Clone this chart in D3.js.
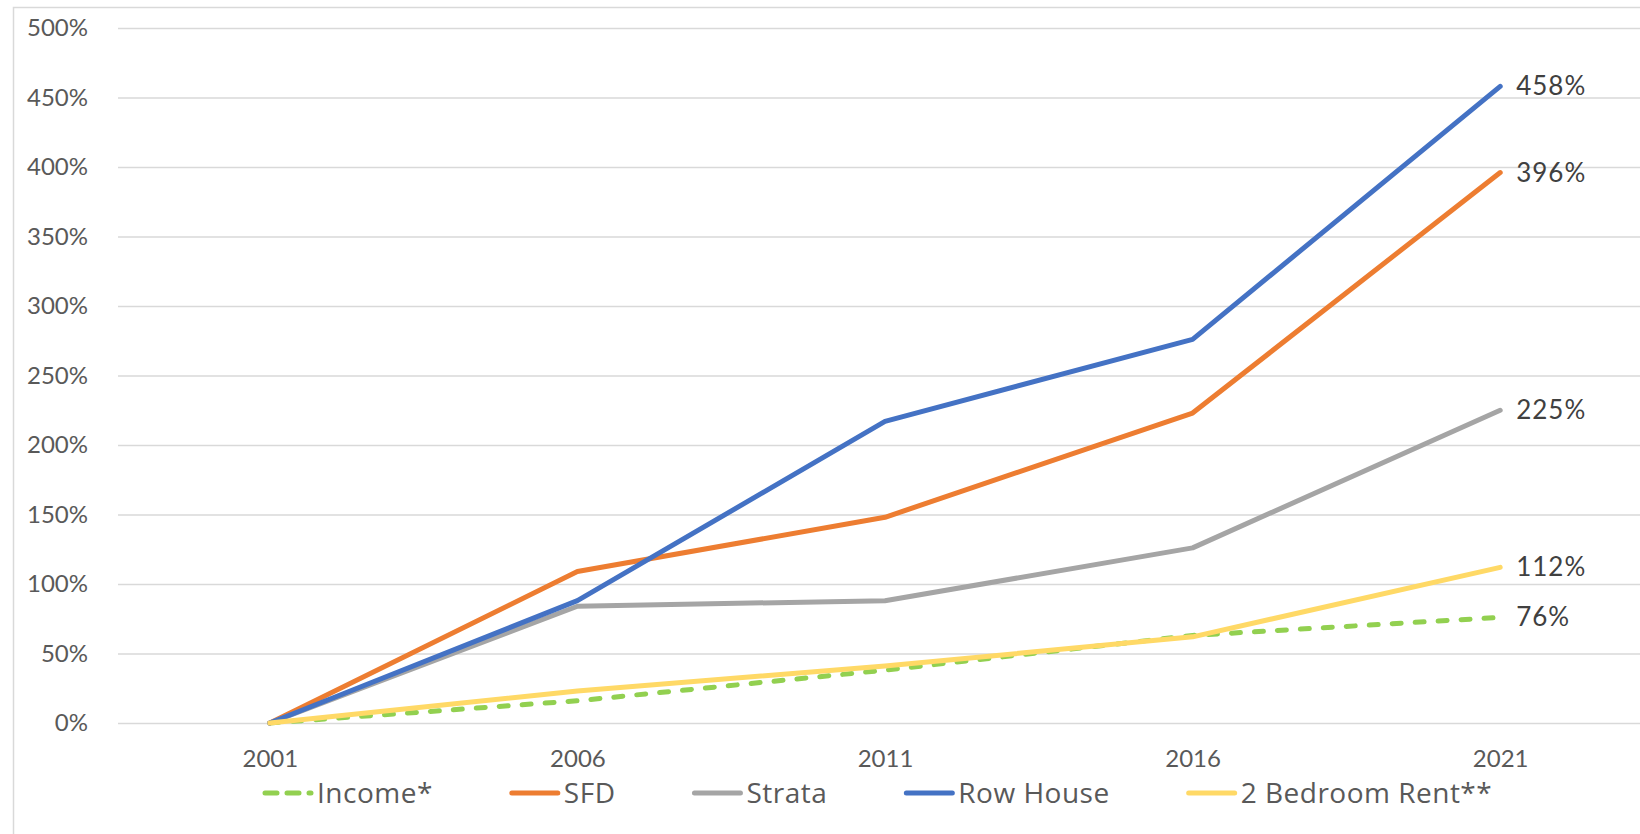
<!DOCTYPE html>
<html>
<head>
<meta charset="utf-8">
<script src="https://cdn.jsdelivr.net/npm/d3@7"></script>
<style>
  body { margin: 0; background: #fff; }
  svg { display: block; font-family: Lato, "Open Sans", sans-serif; }
</style>
</head>
<body>
<svg id="chart" width="1640" height="834"></svg>
<script>
const years = ['2001', '2006', '2011', '2016', '2021'];
const yTicks = [0, 50, 100, 150, 200, 250, 300, 350, 400, 450, 500];

// % change since 2001
const income = [0, 16, 38, 63, 76];
const sfd = [0, 109, 148, 223, 396];
const strata = [0, 84, 88, 126, 225];
const rowHouse = [0, 88, 217, 276, 458];
const rent = [0, 23, 41, 62, 112];

const seriesNames = ['Income*', 'SFD', 'Strata', 'Row House', '2 Bedroom Rent**'];
const seriesValues = [income, sfd, strata, rowHouse, rent];
const seriesColors = ['#92D050', '#ED7D31', '#A5A5A5', '#4472C4', '#FFD966'];

const SVG_WIDTH = 1640;
const margin = { top: 28, bottom: 723, left: 118 };

const svg = d3.select('#chart');

// chart frame
svg.append('rect')
  .attr('x', 13.5).attr('y', 7.5)
  .attr('width', SVG_WIDTH).attr('height', 900)
  .attr('fill', 'none')
  .attr('stroke', '#d9d9d9')
  .attr('stroke-width', 1.5);

const x = d3.scalePoint()
  .domain(years)
  .range([116, 1654])
  .padding(0.5);

const y = d3.scaleLinear()
  .domain([0, 500])
  .range([margin.bottom, margin.top]);

// gridlines
svg.append('g')
  .attr('transform', `translate(${margin.left},0)`)
  .call(d3.axisRight(y).tickValues(yTicks).tickSize(SVG_WIDTH - margin.left).tickFormat(''))
  .call(g => g.select('.domain').remove())
  .call(g => g.selectAll('line').attr('stroke', '#d9d9d9').attr('stroke-width', 1.5));

// y labels
svg.append('g')
  .attr('transform', `translate(${margin.left},0)`)
  .call(d3.axisLeft(y).tickValues(yTicks).tickSize(0).tickPadding(30).tickFormat(d => d + '%'))
  .call(g => g.select('.domain').remove())
  .call(g => g.selectAll('text')
    .attr('fill', '#595959')
    .style('font-size', '24px')
    .style('font-family', 'Lato, sans-serif'));

// x labels
svg.append('g')
  .attr('transform', `translate(0,${margin.bottom})`)
  .call(d3.axisBottom(x).tickSize(0).tickPadding(27))
  .call(g => g.select('.domain').remove())
  .call(g => g.selectAll('text')
    .attr('fill', '#595959')
    .style('font-size', '24px')
    .style('font-family', 'Lato, sans-serif'));

const line = d3.line()
  .x((d, i) => x(years[i]))
  .y(d => y(d));

seriesValues.forEach((vals, i) => {
  svg.append('path')
    .datum(vals)
    .attr('fill', 'none')
    .attr('stroke', seriesColors[i])
    .attr('stroke-width', 5)
    .attr('stroke-linejoin', 'round')
    .attr('stroke-linecap', 'round')
    .attr('stroke-dasharray', i === 0 ? '9,14' : null)
    .attr('d', line);
});

// end labels
seriesValues.forEach(vals => {
  const last = vals[vals.length - 1];
  svg.append('text')
    .attr('x', x(years[years.length - 1]) + 16)
    .attr('y', y(last))
    .attr('dy', '0.35em')
    .attr('fill', '#404040')
    .style('font-size', '26px')
    .style('letter-spacing', '1px')
    .text(last + '%');
});

// legend
const legend = svg.append('g').attr('transform', 'translate(262,793)');
let lx = 0;
seriesNames.forEach((name, i) => {
  const item = legend.append('g').attr('transform', `translate(${lx},0)`);
  item.append('line')
    .attr('x1', 3).attr('x2', 49)
    .attr('stroke', seriesColors[i])
    .attr('stroke-width', 5)
    .attr('stroke-linecap', 'round')
    .attr('stroke-dasharray', i === 0 ? '12,10' : null);
  const t = item.append('text')
    .attr('x', 55)
    .attr('dy', '0.35em')
    .attr('fill', '#595959')
    .style('font-family', '"Open Sans", sans-serif')
    .style('font-size', '28px')
    .style('letter-spacing', '0.5px')
    .text(name);
  lx += 55 + t.node().getComputedTextLength() + 76;
});
</script>
</body>
</html>
